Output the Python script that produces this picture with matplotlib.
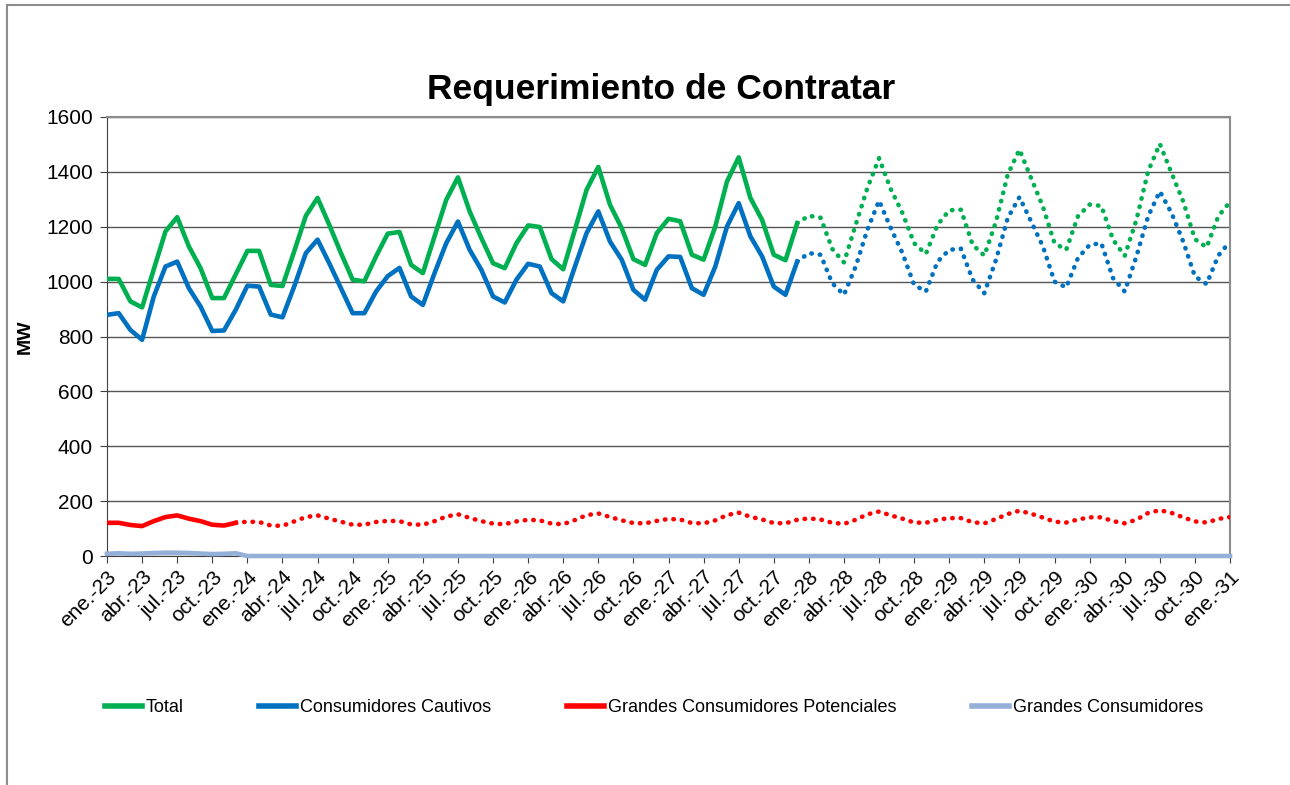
# Requerimiento de Contratar - líneas mensuales ene-23 a ene-31

import matplotlib
matplotlib.use('Agg')
import matplotlib.pyplot as plt
from matplotlib.lines import Line2D
import numpy as np

plt.rcParams['font.family'] = ['Liberation Sans', 'DejaVu Sans']

meses = ['ene.', 'feb.', 'mar.', 'abr.', 'may.', 'jun.',
         'jul.', 'ago.', 'sep.', 'oct.', 'nov.', 'dic.']
periodos = [f'{meses[i % 12]}-{23 + i // 12}' for i in range(97)]

total = [1010, 1010, 928, 906, 1045, 1183, 1235, 1128, 1049, 940, 940, 1026,
         1112, 1112, 988, 984, 1110, 1240, 1305, 1207, 1104, 1007, 1001, 1092,
         1175, 1181, 1061, 1031, 1165, 1298, 1380, 1256, 1159, 1067, 1049, 1140,
         1205, 1199, 1082, 1045, 1189, 1335, 1418, 1280, 1195, 1082, 1061, 1177,
         1229, 1220, 1098, 1080, 1201, 1365, 1453, 1305, 1225, 1098, 1078, 1213,
         1240, 1233, 1119, 1070, 1207, 1341, 1450, 1337, 1250, 1140, 1101, 1207,
         1260, 1262, 1134, 1095, 1219, 1390, 1481, 1377, 1274, 1140, 1116, 1238,
         1281, 1276, 1153, 1094, 1225, 1402, 1502, 1396, 1292, 1155, 1125, 1238,
         1291]

cautivos = [879, 885, 824, 788, 946, 1055, 1073, 976, 909, 820, 822, 897,
            985, 982, 880, 870, 982, 1104, 1153, 1067, 976, 885, 885, 964,
            1020, 1050, 946, 915, 1031, 1140, 1219, 1116, 1043, 946, 924, 1007,
            1065, 1055, 958, 928, 1055, 1177, 1256, 1146, 1080, 970, 934, 1043,
            1092, 1090, 976, 952, 1055, 1201, 1286, 1165, 1092, 982, 952, 1073,
            1104, 1098, 994, 952, 1055, 1189, 1295, 1195, 1104, 988, 964, 1073,
            1116, 1120, 1007, 958, 1080, 1232, 1308, 1219, 1129, 1000, 979, 1086,
            1134, 1140, 1013, 964, 1092, 1238, 1329, 1250, 1146, 1019, 991, 1095,
            1146]

potenciales = [121, 121, 113, 109, 127, 142, 148, 136, 127, 114, 111, 121,
               125, 124, 111, 110, 126, 142, 148, 136, 125, 114, 114, 124,
               128, 127, 115, 114, 127, 144, 152, 139, 127, 118, 116, 126,
               132, 130, 118, 116, 131, 149, 155, 142, 130, 120, 119, 128,
               135, 133, 120, 119, 130, 149, 158, 143, 133, 120, 119, 132,
               137, 133, 121, 117, 132, 152, 162, 148, 136, 122, 121, 132,
               138, 138, 123, 119, 135, 153, 165, 154, 140, 125, 122, 133,
               141, 141, 127, 119, 132, 157, 167, 157, 141, 126, 122, 135,
               142]

grandes = [8, 10, 8, 9, 11, 12, 12, 11, 9, 7, 8, 10] + [0] * 85

# último mes con dato real (dic-27 para Total y Cautivos, dic-23 para Potenciales)
fin_real = 59
fin_real_gcp = 11

verde = '#00B050'
azul = '#0070C0'
rojo = '#FF0000'
gris = '#95B0D8'

x = np.arange(len(periodos))

fig = plt.figure(figsize=(12.9, 7.85), dpi=100)
ax = fig.add_axes([107 / 1290, 229 / 785, 1123 / 1290, 439 / 785])

lw = 3.3
punto = dict(linestyle=(0, (0.1, 1.75)), dash_capstyle='round', lw=lw)

ax.plot(x[:fin_real + 1], total[:fin_real + 1], color=verde, lw=lw, zorder=4)
ax.plot(x[fin_real:], total[fin_real:], color=verde, zorder=4, **punto)
ax.plot(x[:fin_real + 1], cautivos[:fin_real + 1], color=azul, lw=lw, zorder=4)
ax.plot(x[fin_real:], cautivos[fin_real:], color=azul, zorder=4, **punto)
ax.plot(x[:fin_real_gcp + 1], potenciales[:fin_real_gcp + 1], color=rojo, lw=lw, zorder=4)
ax.plot(x[fin_real_gcp:], potenciales[fin_real_gcp:], color=rojo, zorder=4, **punto)
ax.plot(x, grandes, color=gris, lw=lw, zorder=5, clip_on=False)

ax.set_xlim(0, 96)
ax.set_ylim(0, 1600)
ax.set_yticks(np.arange(0, 1601, 200))
ax.set_xticks(x[::3])
ax.set_xticklabels(periodos[::3], rotation=45, ha='right', rotation_mode='anchor')
ax.tick_params(axis='both', labelsize=15, direction='out', length=5, color='#404040')
ax.tick_params(axis='x', pad=3)
ax.tick_params(axis='y', pad=5)

ax.yaxis.grid(True, color='#555555', lw=1)
ax.set_axisbelow(True)
ax.spines['left'].set_color('#404040')
ax.spines['bottom'].set_color('#404040')
ax.spines['top'].set_color('#8c8c8c')
ax.spines['right'].set_color('#8c8c8c')
ax.spines['top'].set_linewidth(1.5)
ax.spines['right'].set_linewidth(1.5)

fig.text(661 / 1290, 1 - 90 / 785, 'Requerimiento de Contratar',
         fontsize=25.5, fontweight='bold', ha='center', va='center')
fig.text(25 / 1290, 1 - 337 / 785, 'MW', fontsize=14, fontweight='bold',
         rotation=90, ha='center', va='center')

handles = [Line2D([], [], color=c, lw=4) for c in [verde, azul, rojo, gris]]
nombres = ['Total', 'Consumidores Cautivos', 'Grandes Consumidores Potenciales',
           'Grandes Consumidores']
fig.legend(handles, nombres, loc='center left', bbox_to_anchor=(105 / 1290, 1 - 708 / 785),
           ncol=4, frameon=False, fontsize=13, handlelength=2.05, handletextpad=0.2,
           columnspacing=4.2, borderpad=0, borderaxespad=0)

# marco exterior del gráfico
fig.add_artist(Line2D([7 / 1290, 7 / 1290], [0, 1 - 5 / 785], color='#8c8c8c', lw=1.5))
fig.add_artist(Line2D([7 / 1290, 1], [1 - 5 / 785, 1 - 5 / 785], color='#8c8c8c', lw=1.5))

fig.savefig('out.png', dpi=100, facecolor='white')
